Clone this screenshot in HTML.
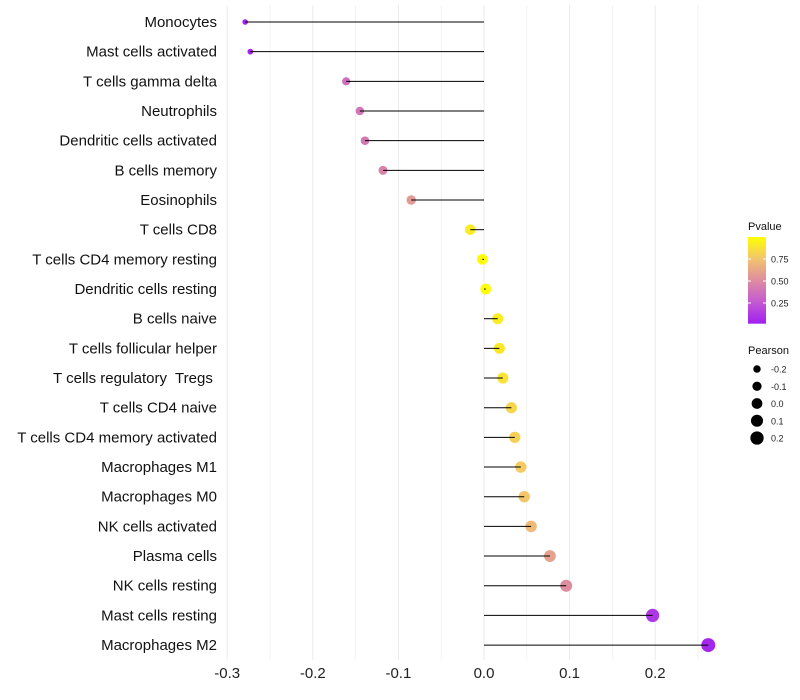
<!DOCTYPE html>
<html><head><meta charset="utf-8"><style>
body{margin:0;background:#fff;font-family:"Liberation Sans",sans-serif;}
svg{display:block}
text{white-space:pre}
</style></head><body>
<svg id="chart" width="800" height="700" xmlns="http://www.w3.org/2000/svg"></svg>
<script>
const categories=["Monocytes","Mast cells activated","T cells gamma delta","Neutrophils","Dendritic cells activated","B cells memory","Eosinophils","T cells CD8","T cells CD4 memory resting","Dendritic cells resting","B cells naive","T cells follicular helper","T cells regulatory  Tregs ","T cells CD4 naive","T cells CD4 memory activated","Macrophages M1","Macrophages M0","NK cells activated","Plasma cells","NK cells resting","Mast cells resting","Macrophages M2"];
const pearson=[-0.279,-0.273,-0.161,-0.145,-0.139,-0.118,-0.085,-0.016,-0.002,0.002,0.016,0.018,0.022,0.032,0.036,0.043,0.047,0.055,0.077,0.096,0.197,0.262];
const pvalue=[0.01,0.02,0.35,0.38,0.40,0.45,0.56,0.92,0.99,0.99,0.92,0.9,0.88,0.82,0.8,0.78,0.76,0.7,0.6,0.5,0.1,0.03];
const xTicks=[-0.3,-0.2,-0.1,0.0,0.1,0.2];
const xTickLabels=["-0.3","-0.2","-0.1","0.0","0.1","0.2"];
const pTicks=[0.25,0.5,0.75];
const pTickLabels=["0.25","0.50","0.75"];
const sizeLegend=[-0.2,-0.1,0.0,0.1,0.2];
const sizeLegendLabels=["-0.2","-0.1","0.0","0.1","0.2"];

const NS="http://www.w3.org/2000/svg";
const svg=document.getElementById('chart');
function mk(tag,attrs,parent){const e=document.createElementNS(NS,tag);for(const k in attrs)e.setAttribute(k,attrs[k]);(parent||svg).appendChild(e);return e;}
const x=v=>484+v*856;
const y=i=>22+i*29.67;
const r=v=>Math.sqrt(Math.max(1,29+76*v));
const stops=[[0,[160,32,240]],[0.25,[196,90,210]],[0.5,[222,140,160]],[0.75,[243,196,110]],[1,[255,255,0]]];
function col(p){for(let i=1;i<stops.length;i++){if(p<=stops[i][0]){const a=stops[i-1],b=stops[i];const t=(p-a[0])/(b[0]-a[0]);const c=a[1].map((v,k)=>Math.round(v+(b[1][k]-v)*t));return `rgb(${c})`;}}return 'rgb(255,255,0)';}

for(let v=-0.3;v<=0.26;v+=0.05){
  const g=mk('line',{x1:x(v),x2:x(v),y1:5,y2:660,stroke:'#ebebeb','stroke-width':Math.abs(Math.round(v*20))%2===0?1:0.6});
  
  
}
xTicks.forEach((v,i)=>{
  const t=mk('text',{x:x(v),y:678,'text-anchor':'middle','font-size':15,fill:'#222'});
  t.textContent=xTickLabels[i];
  
  
});
categories.forEach((c,i)=>{
  const t=mk('text',{x:217,y:y(i)+5,'text-anchor':'end','font-size':15,fill:'#111'});
  t.textContent=c;
  
  
  const d=mk('circle',{cx:x(pearson[i]),cy:y(i),r:r(pearson[i]),fill:col(pvalue[i])});
  
  
  const l=mk('line',{x1:x(0),x2:x(pearson[i]),y1:y(i),y2:y(i),stroke:'#000','stroke-width':1});
  
  
});
const lg=mk('text',{x:748,y:230,'font-size':11,fill:'#111'});lg.textContent='Pvalue';


const defs=mk('defs',{});
const grad=mk('linearGradient',{id:'pg',x1:0,y1:1,x2:0,y2:0},defs);
stops.forEach(s=>mk('stop',{offset:s[0],'stop-color':`rgb(${s[1]})`},grad));
const py=p=>325-p*88;
const bar=mk('rect',{x:748,y:py(1),width:18,height:py(0.015)-py(1),fill:'url(#pg)'});


pTicks.forEach((p,i)=>{
  mk('line',{x1:748,x2:751,y1:py(p),y2:py(p),stroke:'#fff'});
  mk('line',{x1:763,x2:766,y1:py(p),y2:py(p),stroke:'#fff'});
  const t=mk('text',{x:771,y:py(p)+3.5,'font-size':9,fill:'#222'});t.textContent=pTickLabels[i];
  
  
});
const sg=mk('text',{x:748,y:354,'font-size':11,fill:'#111'});sg.textContent='Pearson';


sizeLegend.forEach((v,i)=>{
  const cy=369+i*17.25;
  const c=mk('circle',{cx:757,cy:cy,r:r(v),fill:'#000'});
  
  
  const t=mk('text',{x:771,y:cy+3.5,'font-size':9,fill:'#222'});t.textContent=sizeLegendLabels[i];
  
  
});
</script>
</body></html>
